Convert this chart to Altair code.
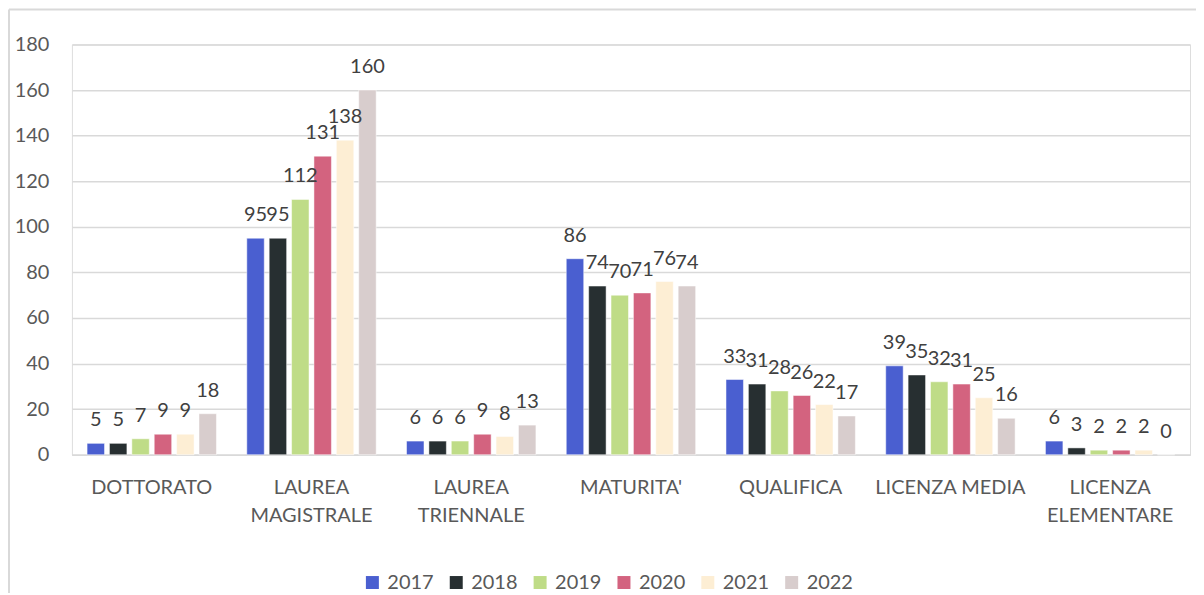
import altair as alt
import pandas as pd

categories = ["DOTTORATO", "LAUREA MAGISTRALE", "LAUREA TRIENNALE", "MATURITA'",
              "QUALIFICA", "LICENZA MEDIA", "LICENZA ELEMENTARE"]
years = ["2017", "2018", "2019", "2020", "2021", "2022"]
v2017 = [5, 95, 6, 86, 33, 39, 6]
v2018 = [5, 95, 6, 74, 31, 35, 3]
v2019 = [7, 112, 6, 70, 28, 32, 2]
v2020 = [9, 131, 9, 71, 26, 31, 2]
v2021 = [9, 138, 8, 76, 22, 25, 2]
v2022 = [18, 160, 13, 74, 17, 16, 0]
colors = ["#4a5fd0", "#272f31", "#bfdc87", "#d3637f", "#fdeed4", "#d8cdcd"]

series = [v2017, v2018, v2019, v2020, v2021, v2022]
rows = []
for y, vals in zip(years, series):
    for c, v in zip(categories, vals):
        rows.append({"cat": c, "year": y, "value": v})
df = pd.DataFrame(rows)

FONT = "Lato"
W, H = 1120, 411

label_expr = ("datum.label == 'LAUREA MAGISTRALE' ? ['LAUREA', 'MAGISTRALE'] : "
              "datum.label == 'LAUREA TRIENNALE' ? ['LAUREA', 'TRIENNALE'] : "
              "datum.label == 'LICENZA ELEMENTARE' ? ['LICENZA', 'ELEMENTARE'] : datum.label")

x = alt.X("cat:N", sort=categories, title=None,
          scale=alt.Scale(paddingInner=0.19, paddingOuter=0.095),
          axis=alt.Axis(labelAngle=0, labelExpr=label_expr, labelFontSize=20,
                        labelColor="#595959", labelFont=FONT, labelPadding=23,
                        labelLineHeight=28, labelBaseline="top",
                        ticks=False, domainColor="#d9d9d9", domainWidth=1.5,
                        grid=False))
xo = alt.XOffset("year:N", sort=years, scale=alt.Scale(paddingInner=0.22))
y = alt.Y("value:Q", title=None,
          scale=alt.Scale(domain=[0, 180], nice=False),
          axis=alt.Axis(values=list(range(0, 181, 20)), labelFontSize=20,
                        labelColor="#595959", labelFont=FONT, labelPadding=23,
                        ticks=False, domain=False, gridColor="#d9d9d9",
                        gridWidth=1.5))

base = alt.Chart(df).encode(x=x, xOffset=xo, y=y)

bars = base.mark_bar(stroke="white", strokeWidth=0.5).encode(
    color=alt.Color("year:N", sort=years,
                    scale=alt.Scale(domain=years, range=colors),
                    legend=alt.Legend(title=None, orient="none", direction="horizontal",
                                      legendX=291, legendY=529,
                                      symbolType="square", symbolSize=169,
                                      symbolStrokeWidth=0, labelFontSize=20,
                                      labelColor="#595959", labelFont=FONT,
                                      labelOffset=5, columnPadding=12))
)

labels = base.mark_text(baseline="alphabetic", dy=-17, fontSize=20,
                        font=FONT, color="#404040").encode(text="value:Q")

one = alt.Data(values=[{"a": 1}])
frame_left = alt.Chart(one).mark_rule(color="#d9d9d9", strokeWidth=2).encode(
    x=alt.value(-63), y=alt.value(-35), y2=alt.value(H + 140))
frame_top = alt.Chart(one).mark_rule(color="#d9d9d9", strokeWidth=2).encode(
    x=alt.value(-63), x2=alt.value(W + 10), y=alt.value(-35))

chart = alt.layer(bars, labels, frame_left, frame_top).properties(
    width=W, height=H,
    autosize=alt.AutoSizeParams(type="none"),
    padding={"left": 64, "top": 36, "right": 6, "bottom": 138},
).configure_view(stroke=None).configure(font=FONT)

chart.save("out.html", embed_options={"renderer": "svg", "actions": False})
